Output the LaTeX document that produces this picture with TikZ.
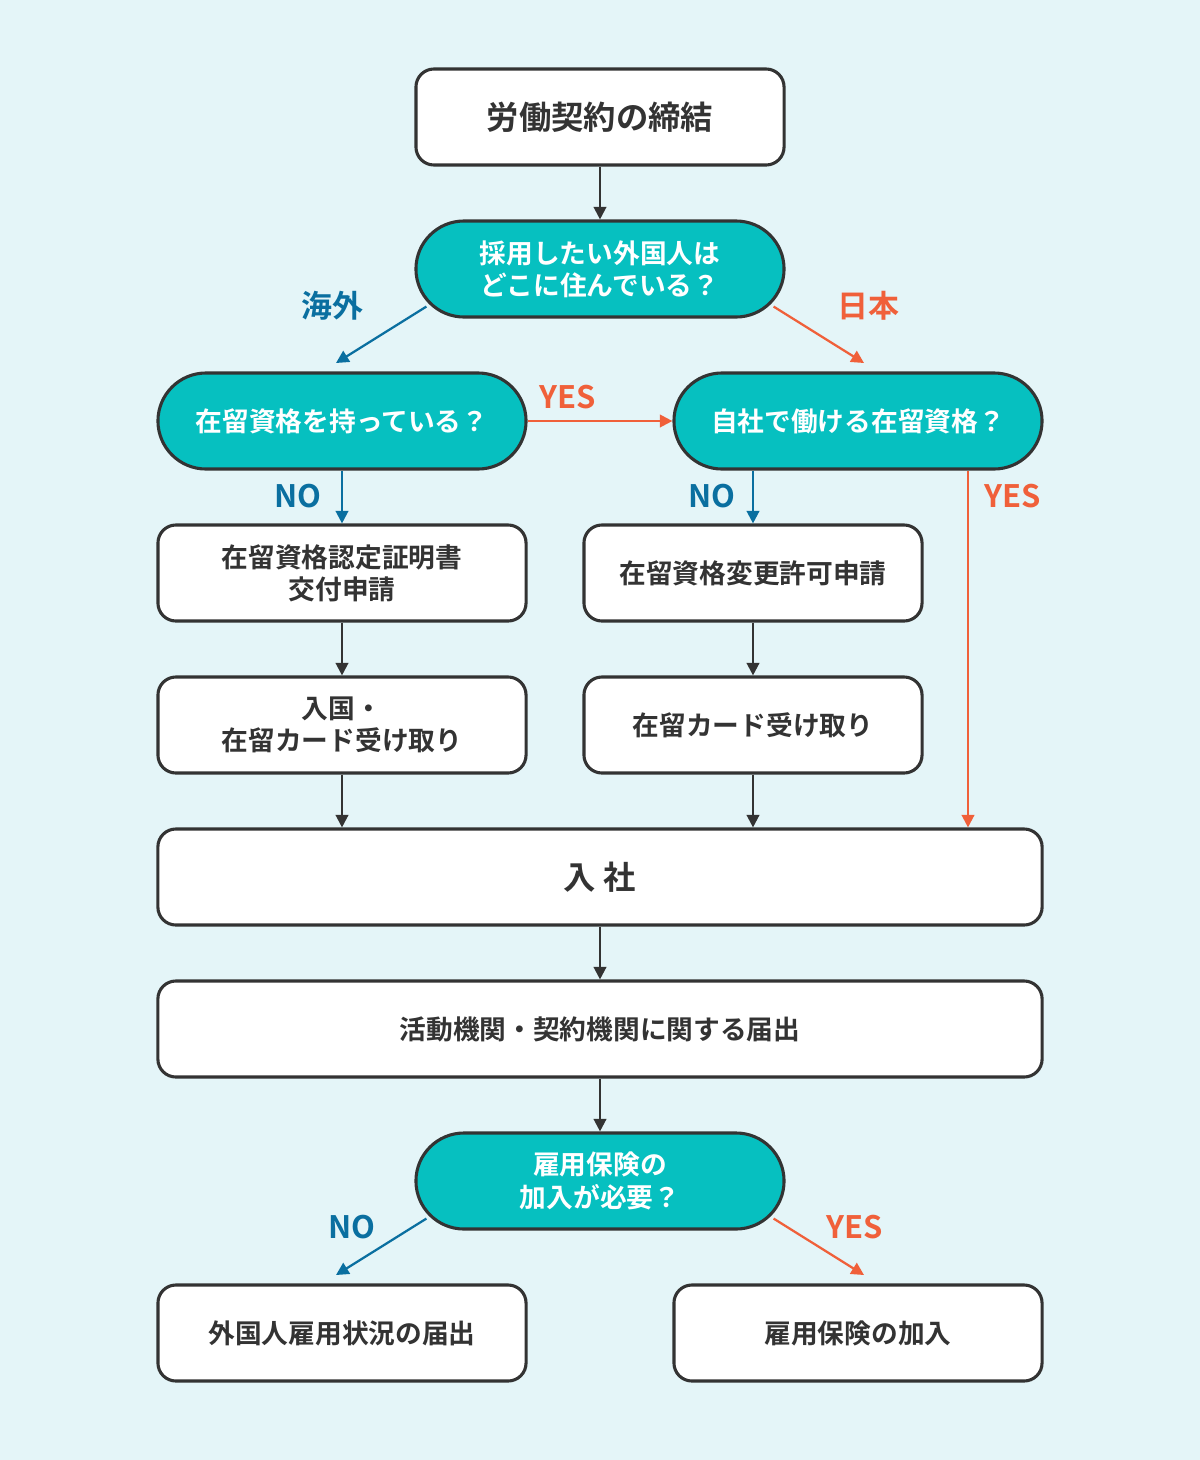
\documentclass[tikz,border=0pt]{standalone}
\usepackage{fontspec}
\newfontfamily\jp{Noto Sans CJK JP Bold}
\usetikzlibrary{arrows.meta}
\definecolor{bg}{HTML}{E4F5F8}
\definecolor{teal}{HTML}{06C0C0}
\definecolor{nblue}{HTML}{0A6FA0}
\definecolor{norange}{HTML}{F0603A}
\definecolor{ink}{HTML}{333333}
\tikzset{
 box/.style={draw=ink,line width=2.2pt,fill=white,rounded corners=0.45cm,
   minimum height=2.4cm,align=center,text=ink,font=\jp\fontsize{19}{23}\selectfont,inner sep=0pt},
 pill/.style={box,fill=teal,rounded corners=1.2cm,text=white},
 arr/.style={ink,line width=1.6pt,-{Triangle[length=9pt,width=9pt]}},
 barr/.style={arr,nblue},
 oarr/.style={arr,norange},
 lab/.style={font=\jp\fontsize{22}{26}\selectfont}
}
\begin{document}
\begin{tikzpicture}[x=0.025cm,y=-0.025cm]
\fill[bg] (0,0) rectangle (1200,1460);
\useasboundingbox (0,0) rectangle (1200,1460);

% boxes
\node[box,minimum width=9.2cm,font=\jp\fontsize{23}{27}\selectfont] (start) at (600,117) {労働契約の締結};
\node[pill,minimum width=9.2cm] (where) at (600,269) {採用したい外国人は\\どこに住んでいる？};
\node[pill,minimum width=9.2cm] (have) at (342,421) {在留資格を持っている？};
\node[pill,minimum width=9.2cm] (work) at (858,421) {自社で働ける在留資格？};
\node[box,minimum width=9.2cm] (cert) at (342,573) {在留資格認定証明書\\交付申請};
\node[box,minimum width=8.45cm] (change) at (753,573) {在留資格変更許可申請};
\node[box,minimum width=9.2cm] (entry) at (342,725) {入国・\\在留カード受け取り};
\node[box,minimum width=8.45cm] (card) at (753,725) {在留カード受け取り};
\node[box,minimum width=22.1cm,font=\jp\fontsize{23}{27}\selectfont] (join) at (600,877) {入 社};
\node[box,minimum width=22.1cm] (notify) at (600,1029) {活動機関・契約機関に関する届出};
\node[pill,minimum width=9.2cm] (ins) at (600,1181) {雇用保険の\\加入が必要？};
\node[box,minimum width=9.2cm] (report) at (342,1333) {外国人雇用状況の届出};
\node[box,minimum width=9.2cm] (enroll) at (858,1333) {雇用保険の加入};

% connectors
\coordinate (yesx) at (968,0);
\draw[arr] (start) -- (where);
\draw[barr] (where.south west) ++(12,-12) coordinate (w1) (w1) -- (336,363);
\draw[oarr] (where.south east) ++(-12,-12) coordinate (w2) (w2) -- (864,363);
\draw[oarr] (have.east) -- (work.west);
\draw[barr] (have.south) -- (cert.north);
\draw[barr] (work.south -| change.north) -- (change.north);
\draw[oarr] (work.south -| yesx) -- (join.north -| yesx);
\draw[arr] (cert) -- (entry);
\draw[arr] (change) -- (card);
\draw[arr] (entry.south) -- (entry.south |- join.north);
\draw[arr] (card.south) -- (card.south |- join.north);
\draw[arr] (join) -- (notify);
\draw[arr] (notify) -- (ins);
\draw[barr] (ins.south west) ++(12,-12) coordinate (i1) (i1) -- (336,1275);
\draw[oarr] (ins.south east) ++(-12,-12) coordinate (i2) (i2) -- (864,1275);

% labels
\node[lab,text=nblue] (l1) at (332,306) {海外};
\node[lab,text=norange] (l2) at (868,306) {日本};
\node[lab,text=norange] (l3) at (568,397) {YES};
\node[lab,text=nblue] (l4) at (298,496) {NO};
\node[lab,text=nblue] (l5) at (712,496) {NO};
\node[lab,text=norange] (l6) at (1013,496) {YES};
\node[lab,text=nblue] (l7) at (352,1227) {NO};
\node[lab,text=norange] (l8) at (855,1227) {YES};
\end{tikzpicture}
\end{document}
